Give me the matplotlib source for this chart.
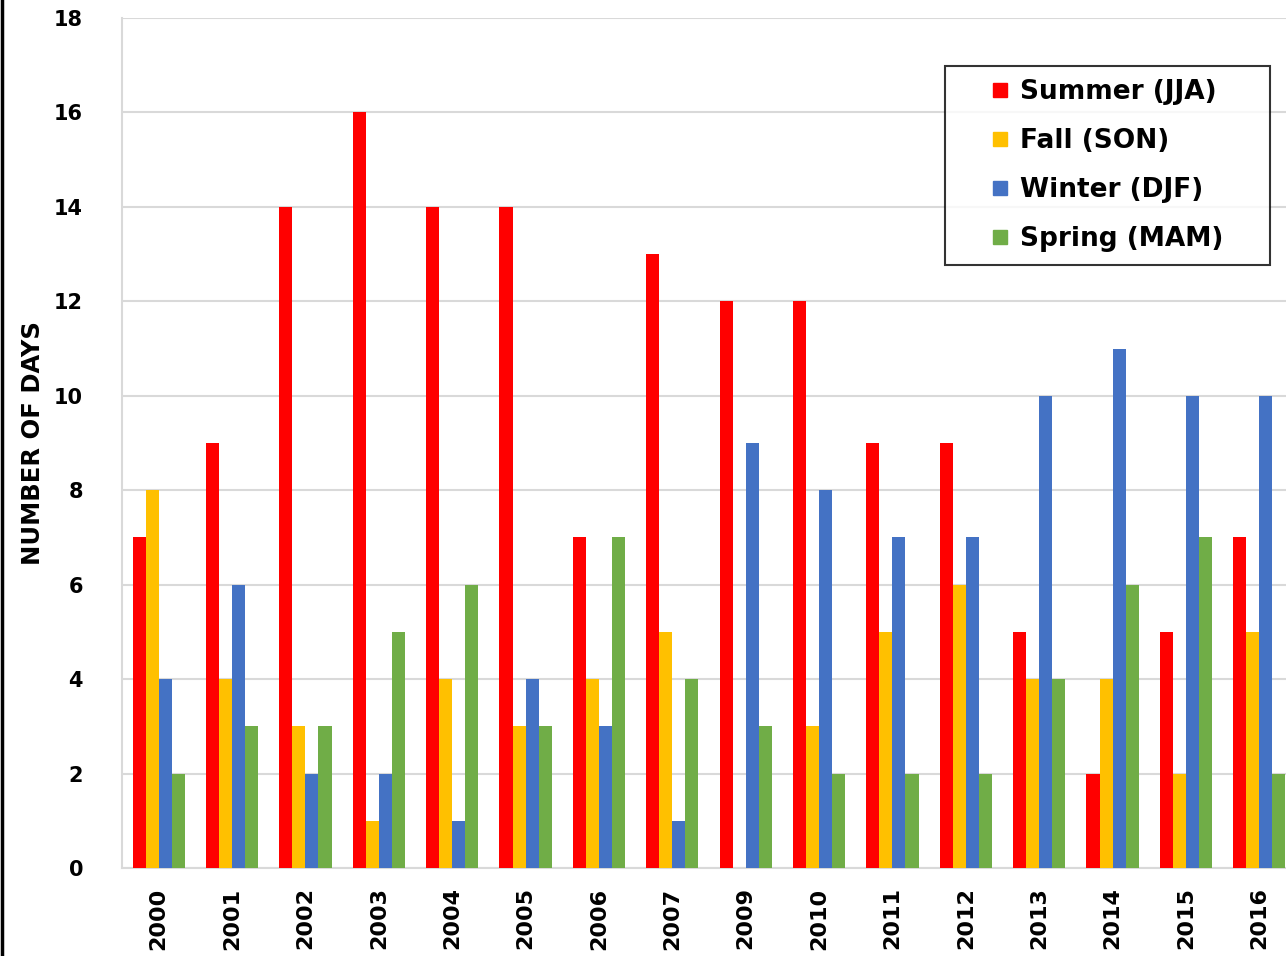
import matplotlib
matplotlib.use('Agg')
import matplotlib.pyplot as plt
import numpy as np
from matplotlib.lines import Line2D

# Dữ liệu
years = ['2000', '2001', '2002', '2003', '2004', '2005', '2006', '2007',
         '2009', '2010', '2011', '2012', '2013', '2014', '2015', '2016']
summer = [7, 9, 14, 16, 14, 14, 7, 13, 12, 12, 9, 9, 5, 2, 5, 7]
fall = [8, 4, 3, 1, 4, 3, 4, 5, 0, 3, 5, 6, 4, 4, 2, 5]
winter = [4, 6, 2, 2, 1, 4, 3, 1, 9, 8, 7, 7, 10, 11, 10, 10]
spring = [2, 3, 3, 5, 6, 3, 7, 4, 3, 2, 2, 2, 4, 6, 7, 2]
series_names = ['Summer (JJA)', 'Fall (SON)', 'Winter (DJF)', 'Spring (MAM)']
colors = ['#FF0000', '#FFC000', '#4472C4', '#70AD47']

W, H = 1286, 956
AXW = 1296 - 122
fig = plt.figure(figsize=(W / 100, H / 100), dpi=100)
# vùng vẽ: trái 122px, 0 ở y=868, 18 ở y=18, phải bị cắt ngoài ảnh
ax = fig.add_axes([122 / W, (H - 868) / H, AXW / W, 850 / H])

x = np.arange(len(years))
bw = 0.178
for i, vals in enumerate([summer, fall, winter, spring]):
    ax.bar(x + (i - 1.5) * bw, vals, width=bw, color=colors[i], zorder=3)

ax.set_xlim(-0.5, len(years) - 0.5)
ax.set_ylim(0, 18)
ax.set_yticks(range(0, 19, 2))
ax.yaxis.grid(True, color='#d9d9d9', linewidth=1.5, zorder=0)
ax.set_axisbelow(True)

for s in ['top', 'right']:
    ax.spines[s].set_visible(False)
for s in ['left', 'bottom']:
    ax.spines[s].set_color('#d9d9d9')
    ax.spines[s].set_linewidth(1.5)

ax.set_xticks(x)
ax.set_xticklabels(years, rotation=90, fontsize=16, fontweight='bold')
ax.tick_params(axis='x', length=0, pad=14)
ax.tick_params(axis='y', length=0, pad=28, labelsize=15)
for lab in ax.get_yticklabels():
    lab.set_fontweight('bold')

ax.set_ylabel('NUMBER OF DAYS', fontsize=17.5, fontweight='bold')
ax.yaxis.set_label_coords(-77 / AXW, 0.50)

# chú thích: ô vuông nhỏ, khung đen
handles = [Line2D([], [], linestyle='none', marker='s', markersize=10.5,
                  markerfacecolor=c, markeredgecolor=c) for c in colors]
leg = ax.legend(handles, series_names, loc='upper left',
                bbox_to_anchor=((945 - 122) / AXW, (868 - 66) / 850, (1270 - 945) / AXW, 0.0001),
                mode='expand', prop={'size': 19, 'weight': 'bold'}, frameon=True, fancybox=False,
                handlelength=3.2, handletextpad=-0.85,
                labelspacing=0.87, borderpad=0.5, borderaxespad=0)
leg.get_frame().set_edgecolor('black')
leg.get_frame().set_linewidth(1.5)

# viền đen bên trái ảnh
fig.add_artist(Line2D([2 / W, 2 / W], [0, 1], color='black', linewidth=2.5, transform=fig.transFigure))

fig.savefig('out.png', dpi=100)
